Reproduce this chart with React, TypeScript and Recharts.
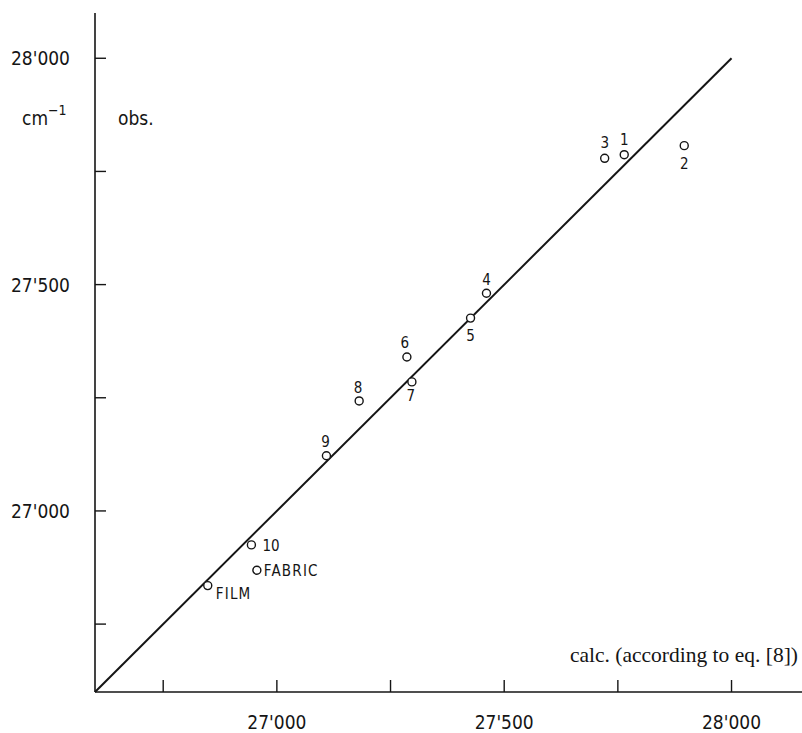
import React from "react"
import {
    ScatterChart,
    Scatter,
    XAxis,
    YAxis,
    ReferenceLine,
    Customized,
} from "recharts"

// wavenumbers, cm^-1
const LABELS = ["1", "2", "3", "4", "5", "6", "7", "8", "9", "10", "FABRIC", "FILM"]
const CALC = [27764, 27896, 27721, 27461, 27426, 27286, 27297, 27181, 27109, 26944, 26956, 26848]
const OBS = [27787, 27807, 27779, 27481, 27426, 27340, 27285, 27243, 27122, 26925, 26869, 26835]

const AXIS_TICKS = [26750, 27000, 27250, 27500, 27750, 28000]
const DIAGONAL = [26600, 28000]

const INK = "#151515"
const CONDENSED = "'DejaVu Sans Condensed', 'Liberation Sans Narrow', 'DejaVu Sans', sans-serif"

// where each point's number sits relative to its circle
const LABEL_POS: Record<string, { dx: number; dy: number; anchor: "middle" | "start" }> = {
    "1": { dx: 0, dy: -15, anchor: "middle" },
    "2": { dx: 0, dy: 18, anchor: "middle" },
    "3": { dx: 0, dy: -15, anchor: "middle" },
    "4": { dx: 0, dy: -13, anchor: "middle" },
    "5": { dx: 0, dy: 18, anchor: "middle" },
    "6": { dx: -2, dy: -14, anchor: "middle" },
    "7": { dx: -1, dy: 14, anchor: "middle" },
    "8": { dx: -1, dy: -13, anchor: "middle" },
    "9": { dx: -1, dy: -14, anchor: "middle" },
    "10": { dx: 11, dy: 1, anchor: "start" },
    FABRIC: { dx: 7, dy: 1, anchor: "start" },
    FILM: { dx: 8, dy: 8, anchor: "start" },
}

const fmt = (v: number) => {
    const s = String(v)
    return `${s.slice(0, 2)}'${s.slice(2)}`
}

function Marker(props: any) {
    const { cx, cy, payload } = props
    const pos = LABEL_POS[payload.label]
    return (
        <g>
            <circle cx={cx} cy={cy} r={4} fill="#fff" stroke={INK} strokeWidth={1.4} />
            <text
                x={cx + pos.dx}
                y={cy + pos.dy}
                textAnchor={pos.anchor}
                dominantBaseline="central"
                fontFamily={CONDENSED}
                fontSize={15}
                letterSpacing={payload.label.length > 2 ? 1.2 : 0}
                fill={INK}
            >
                {payload.label}
            </text>
        </g>
    )
}

function XTick(props: any) {
    const { x, y, payload } = props
    const major = payload.value % 500 === 0
    return (
        <g>
            <line x1={x} y1={y} x2={x} y2={y - 12} stroke={INK} strokeWidth={1.4} />
            {major && (
                <text x={x} y={y + 30} textAnchor="middle" dominantBaseline="central"
                    fontFamily={CONDENSED} fontSize={19} fill={INK}>
                    {fmt(payload.value)}
                </text>
            )}
        </g>
    )
}

function YTick(props: any) {
    const { x, y, payload } = props
    const major = payload.value % 500 === 0
    return (
        <g>
            <line x1={x} y1={y} x2={x + 11} y2={y} stroke={INK} strokeWidth={1.4} />
            {major && (
                <text x={x - 25} y={y} textAnchor="end" dominantBaseline="central"
                    fontFamily={CONDENSED} fontSize={19} fill={INK}>
                    {fmt(payload.value)}
                </text>
            )}
        </g>
    )
}

function Annotations() {
    return (
        <g fill={INK}>
            <text x={22} y={125} fontFamily={CONDENSED} fontSize={19}>
                cm
                <tspan dy={-10} fontSize={14}>−1</tspan>
            </text>
            <text x={118} y={125} fontFamily={CONDENSED} fontSize={19}>obs.</text>
            <text x={798} y={662} textAnchor="end" fontFamily="'Liberation Serif', 'DejaVu Serif', serif" fontSize={21.5}>
                calc. (according to eq. [8])
            </text>
        </g>
    )
}

export default function App() {
    const points = LABELS.map((label, i) => ({ label, calc: CALC[i], obs: OBS[i] }))

    return (
        <div style={{ width: 802, height: 733, background: "#fff" }}>
            <style>{"body{margin:0}"}</style>
            <ScatterChart
                width={802}
                height={733}
                margin={{ top: 13, right: 0, bottom: 0, left: 0 }}
            >
                <XAxis
                    type="number"
                    dataKey="calc"
                    domain={[26600, 28155]}
                    ticks={AXIS_TICKS}
                    interval={0}
                    allowDataOverflow
                    height={41}
                    tickSize={0}
                    tickMargin={0}
                    tickLine={false}
                    tick={<XTick />}
                    axisLine={{ stroke: INK, strokeWidth: 1.6 }}
                />
                <YAxis
                    type="number"
                    dataKey="obs"
                    domain={[26600, 28100]}
                    ticks={AXIS_TICKS}
                    interval={0}
                    allowDataOverflow
                    width={95}
                    tickSize={0}
                    tickMargin={0}
                    tickLine={false}
                    tick={<YTick />}
                    axisLine={{ stroke: INK, strokeWidth: 1.6 }}
                />
                <ReferenceLine
                    segment={[
                        { x: DIAGONAL[0], y: DIAGONAL[0] },
                        { x: DIAGONAL[1], y: DIAGONAL[1] },
                    ]}
                    stroke={INK}
                    strokeWidth={2}
                />
                <Scatter data={points} shape={<Marker />} isAnimationActive={false} />
                <Customized component={<Annotations />} />
            </ScatterChart>
        </div>
    )
}
